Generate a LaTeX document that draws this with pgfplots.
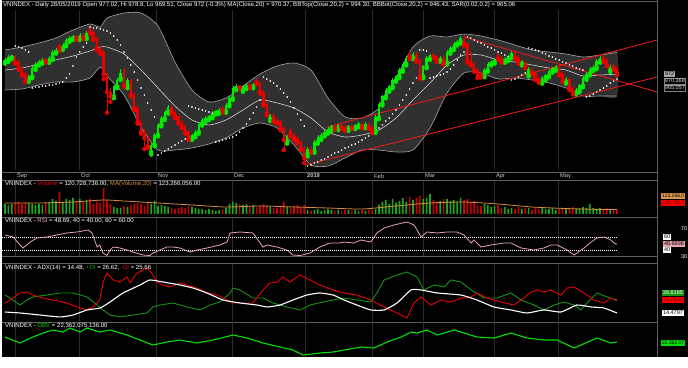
\documentclass[border=0pt]{standalone}
\usepackage{pgfplots}
\pgfplotsset{compat=1.18}
\usepackage{pgfplotstable}
\usepackage{fontspec}
\setmainfont{Liberation Sans}
\definecolor{bandfill}{RGB}{48,48,48}
\definecolor{bandedge}{RGB}{165,165,165}
\definecolor{maline}{RGB}{210,210,210}
\definecolor{cgreen}{RGB}{0,235,0}
\definecolor{cred}{RGB}{235,0,0}
\definecolor{vgreen}{RGB}{30,165,30}
\definecolor{vred}{RGB}{200,0,0}
\definecolor{tred}{RGB}{225,25,25}
\definecolor{gridc}{RGB}{45,45,45}
\definecolor{sepc}{RGB}{95,95,95}
\definecolor{volma}{RGB}{215,140,60}
\definecolor{rsic}{RGB}{232,165,172}
\definecolor{digc}{RGB}{20,150,20}
\definecolor{dmc}{RGB}{235,0,0}
\definecolor{obvc}{RGB}{0,225,0}
\definecolor{monthc}{RGB}{200,200,200}

\pgfplotsset{
  panel/.style={scale only axis, width=657pt, xmin=-1.47, xmax=191.76, anchor=south west,
    axis line style={draw=none}, tick style={draw=none}, ytick=\empty,
    xtick={2.94,21.76,44.4,66.76,88.2,107.9,122.9,143.8,162.6}, xticklabels={,,,,,,,,,},
    xmajorgrids, major grid style={gridc, line width=0.6pt}},
  wick/.style={only marks, mark=none, error bars/.cd, y dir=plus, y explicit, error mark=none,
    error bar style={line width=0.6pt, solid}},
  body/.style={only marks, mark=none, error bars/.cd, y dir=plus, y explicit, error mark=none,
    error bar style={line width=2.3pt, solid}},
}

% rising days: i open high low close volume(millions)
\pgfplotstableread{
i o h l c v
0 984 988 982 986 175
1 986 991 984 989 166
2 989 992 987 990 175
7 964 970 962 968 185
8 968 979 966 977 175
9 977 984 975 982 166
10 982 986 980 984 175
11 984 988 982 986 166
13 985 990 983 988 194
14 988 997 986 995 223
15 995 999 993 997 204
17 999 1005 997 1003 194
18 1003 1010 1001 1008 223
19 1008 1012 1006 1010 213
20 1010 1014 1008 1012 232
22 1010 1016 1008 1014 223
24 1011 1018 1009 1016 213
32 946 959 944 957 147
33 957 966 955 964 137
34 966 976 964 972 137
36 958 966 955 964 147
43 885 895 882 893 175
44 893 906 891 904 204
45 904 917 902 915 156
46 915 924 913 922 166
47 922 931 920 929 156
48 929 936 927 934 147
55 900 905 898 903 147
56 903 909 901 907 137
57 907 918 905 916 128
58 916 922 914 920 128
59 920 924 918 922 118
60 922 926 920 924 128
61 924 930 922 928 118
62 928 931 926 929.5 109
63 929 933 927 931 118
65 930 939 928 937 137
66 937 946 935 944 175
67 944 957 942 955 194
68 955 960 953 957 185
70 953 958 951 956 166
71 956 960 954 958 175
73 957 961 955 959 166
78 921 927 919 925 147
83 896 904 894 902 147
89 883 890 880 888 118
91 886 898 884 896 118
92 896 903 894 901 128
93 900 906 898 904 109
94 904 909 902 907 118
95 907 912 905 910 128
96 910 915 908 913 118
98 911 916 909 914 118
101 910 915 908 913 118
103 912 916 910 914 118
104 914 918 912 916 109
106 913 918 911 916 109
109 908 925 906 923 128
110 923 940 921 938 166
111 938 948 936 946 194
112 946 955 944 953 213
113 953 959 951 957 175
114 957 966 955 964 223
115 964 970 962 968 185
116 968 977 966 975 204
117 975 984 973 982 232
118 982 990 980 988 194
120 989 995 987 993 213
123 968 981 966 979 223
124 979 990 977 988 232
125 988 993 986 991 270
128 986 990 984 988 204
130 983 997 981 995 223
131 995 1001 993 999 204
132 999 1006 997 1004 213
133 1004 1008 1002 1006 194
134 1006 1012 1004 1010 232
141 969 977 967 975 175
142 975 984 973 982 166
143 982 986 980 984 147
144 984 988 982 986 156
147 985 989 983 987 147
148 987 992 985 990 128
149 990 996 988 994 137
152 982 986 980 984.5 128
154 970 978 968 976 137
158 962 968 960 966 137
159 966 971 964 969 128
160 969 976 967 974 128
161 974 978 972 976 137
162 976 981 974 979 118
165 962 967 960 965 128
168 950 955 948 953 128
169 953 960 951 958 137
170 958 968 956 966 147
171 966 973 964 971 137
172 971 978 969 976 175
173 976 980 974 978 137
174 978 987 976 985 128
175 985 990 983 988 137
178 975 980 973 978 118
}\up

% falling days
\pgfplotstableread{
i o h l c v
3 990 992 982 984 185
4 984 986 975 977 194
5 977 979 969 971 175
6 971 973 962 964 194
12 986 988 983 985 185
16 1002 1004 996 999 289
21 1012 1014 1008 1010 204
23 1014 1016 1009 1011 194
25 1021 1024 1015 1017 223
26 1017 1019 1008 1010 175
27 1010 1012 997 999 194
28 999 1001 993 995 185
29 995 997 965 970 327
30 970 972 928 951 213
31 951 955 940 946 175
35 975 977 956 958 156
37 964 966 946 948 166
38 948 950 931 933 175
39 933 935 916 918 185
40 918 921 905 907 175
41 907 910 888 900 156
42 900 903 889 891 194
49 934 936 927 929 137
50 929 931 922 924 128
51 924 926 916 918 137
52 918 920 911 913 147
53 913 915 905 907 137
54 907 909 898 900 156
64 933 935 928 930 128
69 957 959 954 956 175
72 958 960 955 957 156
74 964 966 959 961 147
75 961 963 949 951 156
76 951 953 936 938 175
77 938 940 925 927 156
79 925 927 918 920 137
80 920 922 916 918 137
81 918 920 909 911 147
82 911 913 887 898 194
84 909 911 902 904 137
85 904 906 898 900 156
86 900 902 894 896 166
87 896 898 887 889 137
88 889 891 873 878 166
90 888 891 884 886 109
97 913 915 909 911 109
99 914 916 910 912 109
100 912 914 908 910 118
102 913 915 910 912 109
105 916 918 911 913 118
107 916 918 910 912 118
108 912 914 906 908 118
119 993 996 987 989 242
121 993 995 984 986 232
122 986 988 965 968 251
126 991 994 988 990 213
127 990 992 984 986 194
129 988 990 981 983 223
135 1010 1013 1002 1004 213
136 1004 1006 983 986 223
137 986 995 980 982 194
138 982 984 973 975 204
139 975 977 966 968 166
140 971 973 967 969 156
145 993 995 986 988 166
146 988 990 983 985 137
150 994 997 987 989 128
151 989 991 982 984 147
153 984 986 977 979 137
155 976 978 970 972 118
156 972 974 964 966 137
157 966 968 961 963 128
163 979 981 969 971 128
164 971 973 962 964 137
166 965 967 953 955 137
167 955 957 948 950 147
176 989 991 984 986 128
177 986 988 979 981 137
179 980 982 975 977 128
180 977.02 978.8 969.51 972 120.73
}\down

% Bollinger bands: top, MA(20), bottom
\pgfplotstableread{
i t m b
0 997.0 975.0 953.0
5 1000.3 977.2 954.1
10 1004.7 981.6 958.5
15 1010.2 986.0 961.8
20 1019.0 990.4 961.8
25 1025.6 995.9 966.2
28 1022.3 1000.3 978.3
30 1032.2 1000.3 968.4
35 1037.7 992.6 947.5
40 1037.7 975.0 912.3
45 1023.4 955.2 887.0
50 983.8 935.4 887.0
55 953.0 920.0 889.2
60 939.8 914.5 893.6
65 944.2 920.0 900.2
70 957.4 931.0 911.2
75 970.6 942.0 916.7
80 979.4 938.7 911.2
85 982.7 933.2 892.5
90 975.0 922.2 870.5
95 944.2 906.8 869.4
100 923.3 901.3 878.2
105 922.2 903.5 887.0
110 933.2 909.0 887.0
115 966.2 922.2 884.8
120 1000.3 942.0 887.0
125 1012.4 960.7 911.2
130 1011.3 980.5 949.7
135 1014.6 991.5 971.7
140 1012.4 991.5 971.7
145 1008.0 986.0 965.1
150 1002.5 983.8 966.2
155 997.0 980.5 964.0
160 994.8 977.2 960.7
165 992.6 975.0 955.2
170 989.3 968.4 946.4
175 991.5 969.5 946.4
180 994.3 970.37 946.43
}\bb

% band outline: top forward, bottom back
\pgfplotstableread{
i y
0 997.0
5 1000.3
10 1004.7
15 1010.2
20 1019.0
25 1025.6
28 1022.3
30 1032.2
35 1037.7
40 1037.7
45 1023.4
50 983.8
55 953.0
60 939.8
65 944.2
70 957.4
75 970.6
80 979.4
85 982.7
90 975.0
95 944.2
100 923.3
105 922.2
110 933.2
115 966.2
120 1000.3
125 1012.4
130 1011.3
135 1014.6
140 1012.4
145 1008.0
150 1002.5
155 997.0
160 994.8
165 992.6
170 989.3
175 991.5
180 994.3
180 946.43
175 946.4
170 946.4
165 955.2
160 960.7
155 964.0
150 966.2
145 965.1
140 971.7
135 971.7
130 949.7
125 911.2
120 887.0
115 884.8
110 887.0
105 887.0
100 878.2
95 869.4
90 870.5
85 892.5
80 911.2
75 916.7
70 911.2
65 900.2
60 893.6
55 889.2
50 887.0
45 887.0
40 912.3
35 947.5
30 968.4
28 978.3
25 966.2
20 961.8
15 961.8
10 958.5
5 954.1
0 953.0
}\band

\pgfplotstableread{
i s
3 1001.4
4 1000.3
5 999.2
6 997.0
7 994.8
8 955.2
9 956.3
10 956.3
11 957.4
12 957.4
13 958.5
14 958.5
15 959.6
16 960.7
17 961.8
18 966.2
19 970.6
20 979.4
21 989.3
22 994.8
23 1000.3
24 1004.7
25 1022.3
26 1021.2
27 1021.2
28 1020.1
29 1019.0
30 1017.9
31 1015.7
32 1012.4
33 1008.0
34 1002.5
35 994.8
36 988.2
37 980.5
38 972.8
39 964.0
40 955.2
41 947.5
42 938.7
43 931.0
44 923.3
45 881.5
46 883.7
47 885.9
48 888.1
49 890.3
50 892.5
51 894.7
52 896.9
53 899.1
54 935.4
55 934.3
56 933.2
57 932.1
58 931.0
59 929.9
60 928.8
61 927.7
62 895.8
63 896.9
64 898.0
65 899.1
66 900.2
67 901.3
68 903.5
69 906.8
70 911.2
71 915.6
72 921.1
73 927.7
74 934.3
75 942.0
76 967.3
77 965.1
78 962.9
79 960.7
80 957.4
81 954.1
82 949.7
83 945.3
84 939.8
85 933.2
86 926.6
87 920.0
88 913.4
89 869.4
90 870.5
91 872.7
92 873.8
93 876.0
94 877.1
95 879.3
96 881.5
97 883.7
98 884.8
99 887.0
100 889.2
101 890.3
102 892.5
103 893.6
104 895.8
105 898.0
106 900.2
107 902.4
108 904.6
109 907.9
110 911.2
111 914.5
112 918.9
113 922.2
114 926.6
115 931.0
116 936.5
117 942.0
118 947.5
119 954.1
120 960.7
121 966.2
122 997.0
123 997.0
124 995.9
125 966.2
126 967.3
127 968.4
128 969.5
129 970.6
130 972.8
131 976.1
132 980.5
133 986.0
134 991.5
135 994.8
136 1011.3
137 1010.2
138 1008.0
139 1005.8
140 1004.7
141 1002.5
142 1000.3
143 999.2
144 997.0
145 994.8
146 993.7
147 991.5
148 989.3
149 964.0
150 965.1
151 967.3
152 969.5
153 971.7
154 999.2
155 998.1
156 997.0
157 995.9
158 993.7
159 992.6
160 990.4
161 989.3
162 987.1
163 986.0
164 983.8
165 982.7
166 980.5
167 979.4
168 977.2
169 976.1
170 975.0
171 945.3
172 946.4
173 948.6
174 950.8
175 953.0
176 955.2
177 957.4
178 960.7
179 962.9
180 965.06
}\sar

\pgfplotstableread{
i v
0 184.5
10 184.5
20 194
29 213
35 203.5
45 184.5
55 165.5
65 146.5
75 156
85 146.5
95 137
105 127.5
115 156
125 184.5
135 194
145 175
155 146.5
165 132
175 123
180 123.27
}\volmat

\pgfplotstableread{
i r
0 63.1
2.4 60.0
4.4 47.7
5.3 43.1
7.4 52.3
9.4 58.5
12.4 60.0
15.3 63.1
18.2 66.2
21.2 67.7
22.9 69.2
24.4 70.8
25.6 66.2
27.1 44.6
27.9 47.7
28.8 35.4
30.0 31.5
30.9 40.0
31.8 44.6
33.8 43.1
35.9 40.0
37.6 36.9
40.6 32.3
42.6 31.5
43.5 35.4
45.6 40.0
47.6 44.6
49.4 44.6
51.5 43.1
54.4 36.9
56.5 40.0
59.4 43.1
63.2 47.7
65.3 52.3
66.2 66.2
69.1 67.7
72.9 66.2
75.9 44.6
77.1 47.7
80.0 44.6
82.9 40.0
84.7 32.3
86.8 31.5
89.7 35.4
92.6 44.6
95.6 50.8
98.5 50.8
99.7 52.3
102.6 50.8
104.7 55.4
107.6 52.3
109.4 66.2
111.5 73.8
114.4 78.5
118.2 83.1
120.3 78.5
122.4 60.0
124.1 67.7
127.1 66.2
130.0 67.7
132.9 67.7
135.0 63.1
137.1 50.8
137.9 55.4
140.0 44.6
142.9 47.7
146.8 50.8
148.8 50.8
151.8 43.1
155.6 40.0
158.5 43.1
160.6 47.7
162.4 47.7
165.3 40.0
167.4 32.3
170.3 43.1
172.4 52.3
174.1 58.5
176.2 60.0
178.2 55.4
179.1 50.8
180 48.69
}\rsi

\pgfplotstableread{
i v
0 23.8
0.6 24.7
4.4 33.1
6.5 34.0
8.2 31.2
11.2 28.4
14.1 26.6
18.2 23.8
21.2 20.1
24.1 17.3
25.9 20.1
27.9 26.6
28.8 42.4
30.0 51.7
31.8 45.2
33.8 43.3
35.9 48.0
36.8 42.4
38.8 51.7
40.6 54.5
41.8 56.3
43.2 51.7
44.7 43.3
46.5 40.5
48.5 38.7
51.5 42.4
53.5 40.5
56.5 37.7
59.4 33.1
62.4 31.2
65.3 26.6
67.1 23.8
70.0 23.8
72.9 23.8
75.9 35.9
77.9 42.4
80.0 43.3
81.8 48.0
83.8 43.3
86.8 49.8
89.7 45.2
92.6 40.5
96.5 35.9
99.7 33.1
103.5 31.2
107.6 26.6
111.5 20.1
115.3 14.5
118.2 9.8
120.3 23.8
122.4 29.4
125.3 21.9
128.2 26.6
131.2 24.7
134.1 28.4
137.1 29.4
138.8 33.1
141.8 28.4
145.9 24.7
149.7 21.9
152.6 28.4
154.7 34.0
156.5 35.9
158.5 34.0
160.6 35.9
163.5 31.2
165.3 37.7
167.4 38.7
170.3 33.1
173.2 26.6
176.2 23.8
178.2 28.4
180 25.66
}\mdi

\pgfplotstableread{
i v
0 31.2
1.5 28.4
4.4 21.9
6.5 26.6
8.2 29.4
12.4 31.2
16.2 33.1
20.0 33.1
24.1 29.4
27.1 21.9
28.8 17.3
30.9 12.6
33.8 10.8
37.6 12.6
41.8 14.5
43.5 20.1
45.6 21.9
49.4 23.8
53.5 20.1
57.4 17.3
60.3 21.9
63.2 24.7
66.2 33.1
67.1 37.7
69.1 35.9
72.9 28.4
75.9 28.4
78.8 23.8
82.9 20.1
86.8 17.3
89.7 21.9
93.5 24.7
96.5 26.6
99.7 28.4
103.5 26.6
107.6 24.7
109.4 33.1
111.5 45.2
115.3 49.8
118.2 52.6
121.2 48.0
123.2 35.9
126.2 40.5
129.1 38.7
131.2 45.2
134.1 43.3
137.1 35.9
140.9 28.4
144.7 28.4
148.8 33.1
151.8 26.6
155.6 21.9
158.5 17.3
161.5 21.9
164.4 24.7
167.4 21.9
169.4 17.3
171.2 23.8
174.1 33.1
177.1 29.4
180 26.62
}\pdi

\pgfplotstableread{
i v
0 15.4
4.4 14.5
10.3 12.6
16.2 10.8
20.0 12.6
24.1 17.3
27.9 19.1
30.9 24.7
34.7 33.1
39.7 40.5
42.6 45.2
46.5 43.3
51.5 40.5
55.3 37.7
59.4 33.1
64.1 26.6
69.1 23.8
74.1 21.9
77.1 20.1
80.9 21.9
84.7 26.6
88.8 31.2
92.6 33.1
96.5 31.2
99.7 26.6
103.5 21.9
107.6 17.3
111.5 17.3
115.3 23.8
119.4 35.9
122.4 35.9
127.1 33.1
134.1 31.2
138.8 26.6
143.8 20.1
148.8 17.3
153.5 14.5
158.5 17.3
163.5 15.4
168.2 21.9
172.4 20.1
176.2 19.1
180 14.48
}\adx

\pgfplotstableread{
i v
0 22.96
4.4 22.24
8.2 22.96
11.2 23.44
14.1 23.80
17.1 23.56
19.1 24.04
22.1 23.56
24.1 24.04
27.9 23.56
30.9 23.80
35.9 23.20
39.7 22.60
43.5 22.00
47.6 22.36
51.5 22.60
56.5 22.24
61.2 22.60
67.1 23.20
71.2 22.84
75.9 22.24
80.9 21.76
84.7 21.40
87.6 20.80
92.6 21.04
96.5 21.16
99.7 21.40
104.7 21.76
108.5 21.64
112.4 22.36
116.5 22.96
119.4 23.56
121.2 23.44
124.1 23.80
127.1 23.20
132.1 23.80
134.1 23.56
138.8 22.96
143.8 22.84
148.8 23.44
153.5 22.84
158.5 22.60
162.4 22.60
167.4 21.64
174.1 22.84
178.2 22.24
180 22.362
}\obv

\begin{document}
\begin{tikzpicture}[x=1pt,y=1pt]
\fill[white] (0,0) rectangle (688,367);
\fill[black] (2,10) rectangle (688,367);

% ---------------- price panel
\begin{axis}[panel, at={(0pt,197pt)}, height=160pt, ymin=865, ymax=1041]
\addplot[fill=bandfill, draw=none, smooth, tension=0.4] table[x=i,y=y]{\band};
\addplot[bandedge, line width=0.6pt, smooth, tension=0.4] table[x=i,y=t]{\bb};
\addplot[bandedge, line width=0.6pt, smooth, tension=0.4] table[x=i,y=b]{\bb};
\addplot[maline, line width=0.6pt, smooth, tension=0.4] table[x=i,y=m]{\bb};
% trend lines
\addplot[tred, line width=0.9pt] coordinates {(88.2,870.5) (191.8,967.3)};
\addplot[tred, line width=0.9pt] coordinates {(94.7,912.3) (191.8,1008)};
\addplot[tred, line width=0.9pt] coordinates {(135,1011.3) (191.8,950.8)};
% SAR
\addplot[white, only marks, mark=*, mark size=0.55pt] table[x=i,y=s]{\sar};
% candles
\addplot[cgreen, wick] table[x=i, y=l, y error plus expr={\thisrow{h}-\thisrow{l}}]{\up};
\addplot[cred, wick] table[x=i, y=l, y error plus expr={\thisrow{h}-\thisrow{l}}]{\down};
\addplot[cgreen, body] table[x=i, y=o, y error plus expr={\thisrow{c}-\thisrow{o}}]{\up};
\addplot[cred, body] table[x=i, y=c, y error plus expr={\thisrow{o}-\thisrow{c}}]{\down};
\end{axis}

% ---------------- volume panel
\begin{axis}[panel, at={(0pt,153pt)}, height=34pt, ymin=80, ymax=403]
\addplot[ybar, bar width=1.7pt, bar shift=0pt, fill=vgreen, draw=none] table[x=i,y=v]{\up};
\addplot[ybar, bar width=1.7pt, bar shift=0pt, fill=vred, draw=none] table[x=i,y=v]{\down};
\addplot[volma, line width=0.8pt, smooth, tension=0.4] table[x=i,y=v]{\volmat};
\end{axis}

% ---------------- RSI panel
\begin{axis}[panel, at={(0pt,111pt)}, height=38pt, ymin=30.8, ymax=89.2]
\addplot[white, line width=0.5pt, dash pattern=on 0.8pt off 1.2pt] coordinates {(-1.47,60) (180,60)};
\addplot[white, line width=0.5pt, dash pattern=on 0.8pt off 1.2pt] coordinates {(-1.47,40) (180,40)};
\addplot[rsic, line width=0.8pt] table[x=i,y=r]{\rsi};
\end{axis}

% ---------------- ADX panel
\begin{axis}[panel, at={(0pt,46pt)}, height=58pt, ymin=7.04, ymax=61.0]
\addplot[digc, line width=0.9pt] table[x=i,y=v]{\pdi};
\addplot[dmc, line width=0.9pt] table[x=i,y=v]{\mdi};
\addplot[white, line width=1.1pt, smooth, tension=0.3] table[x=i,y=v]{\adx};
\end{axis}

% ---------------- OBV panel
\begin{axis}[panel, at={(0pt,10pt)}, height=34pt, ymin=20.562, ymax=24.642]
\addplot[obvc, line width=1.1pt] table[x=i,y=v]{\obv};
\end{axis}

% separators
\draw[sepc, line width=0.6pt] (2,366) -- (657,366);
\draw[sepc, line width=0.6pt] (2,194.5) -- (657,194.5);
\draw[sepc, line width=0.6pt] (2,187) -- (657,187);
\draw[sepc, line width=0.6pt] (2,149.5) -- (657,149.5);
\draw[sepc, line width=0.6pt] (2,111) -- (657,111);
\draw[sepc, line width=0.6pt] (2,104) -- (657,104);
\draw[sepc, line width=0.6pt] (2,45) -- (657,45);
\draw[sepc, line width=0.6pt] (657,10) -- (657,367);

% titles
\begin{scope}[every node/.style={anchor=west, inner sep=0pt, font=\fontsize{6.05}{7}\selectfont, text=white}]
\node at (3,362) {VNINDEX - Daily 28/05/2019 Open 977.02, Hi 978.8, Lo 969.51, Close 972 (-0.3\%) MA(Close,20) = 970.37, BBTop(Close,20,2) = 994.30, BBBot(Close,20,2) = 946.43, SAR(0.02,0.2) = 965.06};
\node at (5,183) {VNINDEX - \textcolor{cred}{Volume} = 120,728,736.00, \textcolor{volma}{MA(Volume,20)} = 123,266,056.00};
\node at (5,146) {VNINDEX - \textcolor{rsic}{RSI} = 48.69, 40 = 40.00, 60 = 60.00};
\node at (5,99) {VNINDEX - ADX(14) = 14.48, \textcolor{digc}{+DI} = 26.62, \textcolor{dmc}{-DI} = 25.66};
\node at (5,41) {VNINDEX - \textcolor{obvc}{OBV} = 22,362,075,136.00};
\end{scope}

% month labels
\begin{scope}[every node/.style={anchor=west, inner sep=0pt, font=\fontsize{5.7}{7}\selectfont, text=monthc}]
\node at (17,191) {Sep};
\node at (81,191) {Oct};
\node at (158,191) {Nov};
\node at (234,191) {Dec};
\node at (307,191) {\bfseries 2019};
\node at (374,191) {Feb};
\node at (425,191) {Mar};
\node at (496,191) {Apr};
\node at (560,191) {May};
\end{scope}

% right-hand value labels
\begin{scope}[every node/.style={anchor=west, inner sep=0.8pt, font=\fontsize{5.5}{6}\selectfont}]
\node[fill=gray!70, text=black] at (664,293) {972};
\node[fill=black, draw=gray, line width=0.3pt, text=white!85!black] at (664,286) {970.368};
\node[fill=black, draw=gray, line width=0.3pt, text=white!85!black] at (664,279) {965.057};
\node[fill=volma!90!white, text=black, font=\fontsize{5.0}{6}\selectfont] at (661,171) {123,266,0};
\node[fill=red, text=red!40!black, font=\fontsize{5.0}{6}\selectfont] at (661,164) {120,728,7};
\node[text=white] at (680,138) {70};
\node[fill=white, text=black] at (663,130) {60};
\node[fill=rsic, text=black] at (663,123) {48.6898};
\node[fill=white, text=black] at (663,117) {40};
\node[text=white] at (680,110) {30};
\node[fill=digc, text=white] at (662,74) {26.6185};
\node[fill=red, text=red!40!black] at (662,67) {25.6563};
\node[fill=white, text=black] at (662,54) {14.4797};
\node[fill=obvc, text=black, font=\fontsize{5.0}{6}\selectfont] at (661,24) {22,362,07};
\end{scope}

\pgfresetboundingbox
\path[use as bounding box] (0,0) rectangle (688,367);
\end{tikzpicture}
\end{document}
